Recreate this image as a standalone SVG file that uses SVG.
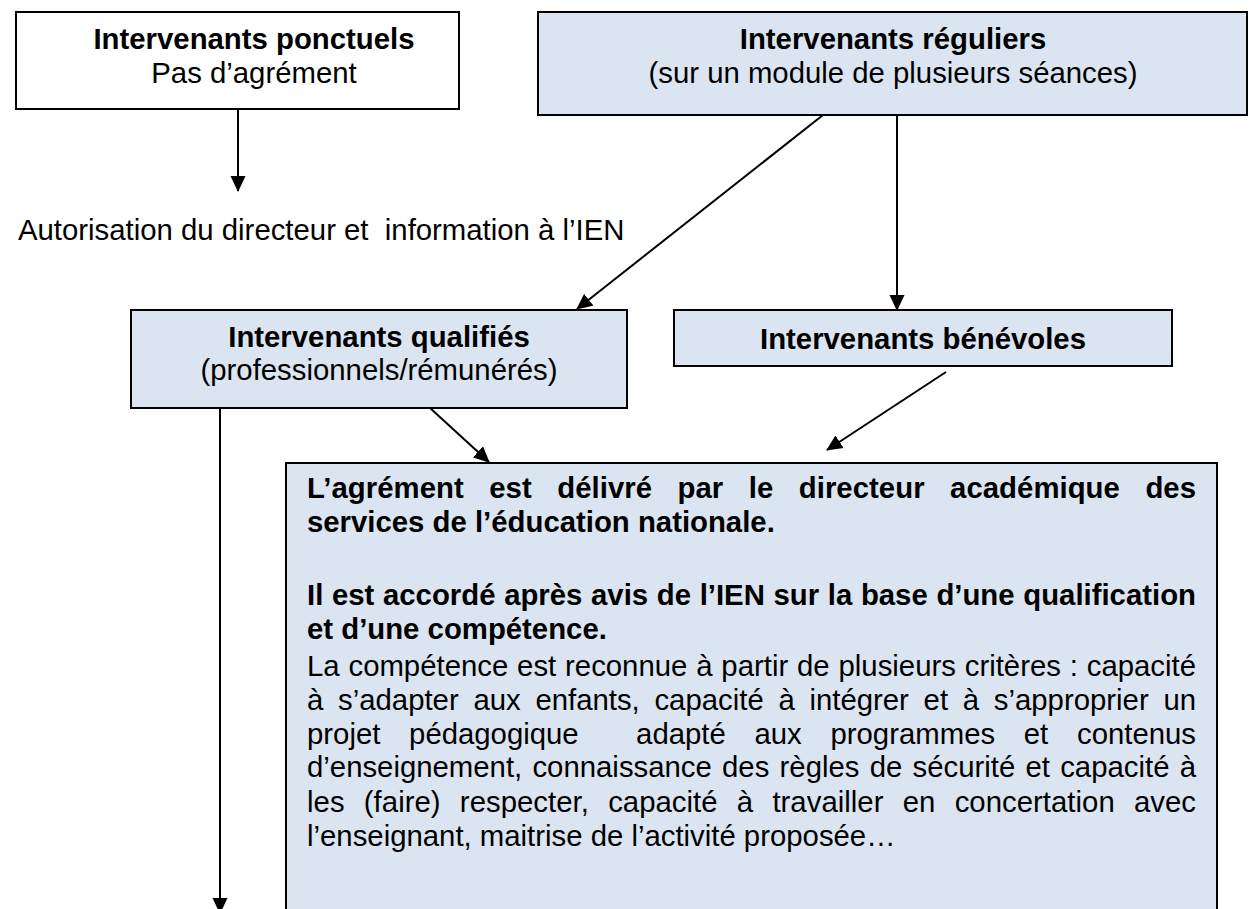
<svg xmlns="http://www.w3.org/2000/svg" width="1249" height="909" viewBox="0 0 1249 909">
<style>
text{font-family:"Liberation Sans",Arial,sans-serif;font-size:29.33px;fill:#000}
.b{font-weight:bold}
.c{text-anchor:middle}
.box{stroke:#000;stroke-width:2}
.blue{fill:#dbe5f1}
.white{fill:#fff}
.con{stroke:#000;stroke-width:2;fill:none;marker-end:url(#ah)}
</style>
<defs>
<marker id="ah" markerUnits="userSpaceOnUse" markerWidth="17" markerHeight="16" viewBox="0 0 17 16" refX="15" refY="8" orient="auto">
<path d="M0,0.5 L16,8 L0,15.5 Z" fill="#000"/>
</marker>
</defs>
<rect width="1249" height="909" fill="#fff"/>
<g id="connectors">
<line class="con" x1="238" y1="109" x2="238" y2="191"/>
<line class="con" x1="823" y1="115" x2="577" y2="309"/>
<line class="con" x1="897" y1="115" x2="897" y2="310"/>
<line class="con" x1="430" y1="408" x2="489" y2="462"/>
<line class="con" x1="946" y1="372" x2="827" y2="450"/>
<line class="con" x1="220" y1="408" x2="220" y2="913"/>
</g>
<g id="ponctuels">
<rect class="box white" x="16" y="12" width="443" height="97"/>
<text class="b c" x="254" y="49">Intervenants ponctuels</text>
<text class="c" x="254" y="82.5">Pas d’agrément</text>
</g>
<g id="autorisation">
<text x="18" y="240">Autorisation du directeur et&#160; information à l’IEN</text>
</g>
<g id="reguliers">
<rect class="box blue" x="538" y="12" width="709" height="103"/>
<text class="b c" x="893" y="49">Intervenants réguliers</text>
<text class="c" x="893" y="82.5">(sur un module de plusieurs séances)</text>
</g>
<g id="qualifies">
<rect class="box blue" x="131" y="310" width="496" height="98"/>
<text class="b c" x="379" y="346.5">Intervenants qualifiés</text>
<text class="c" x="379" y="380">(professionnels/rémunérés)</text>
</g>
<g id="benevoles">
<rect class="box blue" x="674" y="310" width="498" height="56"/>
<text class="b c" x="923" y="348.5">Intervenants bénévoles</text>
</g>
<g id="agrement">
<rect class="box blue" x="286" y="463" width="931" height="470"/>
<text class="b" x="307" y="498" word-spacing="17.3" textLength="889" lengthAdjust="spacing">L’agrément est délivré par le directeur académique des</text>
<text class="b" x="307" y="531.6">services de l’éducation nationale.</text>
<text class="b" x="307" y="605.2" word-spacing="0.5" textLength="889" lengthAdjust="spacing">Il est accordé après avis de l’IEN sur la base d’une qualification</text>
<text class="b" x="307" y="638.8">et d’une compétence.</text>
<text x="307" y="676.4" word-spacing="0.7" textLength="889" lengthAdjust="spacing">La compétence est reconnue à partir de plusieurs critères : capacité</text>
<text x="307" y="710" word-spacing="6.57" textLength="889" lengthAdjust="spacing">à s’adapter aux enfants, capacité à intégrer et à s’approprier un</text>
<text x="307" y="743.6" word-spacing="20.56" textLength="889" lengthAdjust="spacing">projet pédagogique&#160; adapté aux programmes et contenus</text>
<text x="307" y="777.2" word-spacing="2.1" textLength="889" lengthAdjust="spacing">d’enseignement, connaissance des règles de sécurité et capacité à</text>
<text x="307" y="812.2" word-spacing="11.08" textLength="889" lengthAdjust="spacing">les (faire) respecter, capacité à travailler en concertation avec</text>
<text x="307" y="845.8">l’enseignant, maitrise de l’activité proposée…</text>
</g>
</svg>
